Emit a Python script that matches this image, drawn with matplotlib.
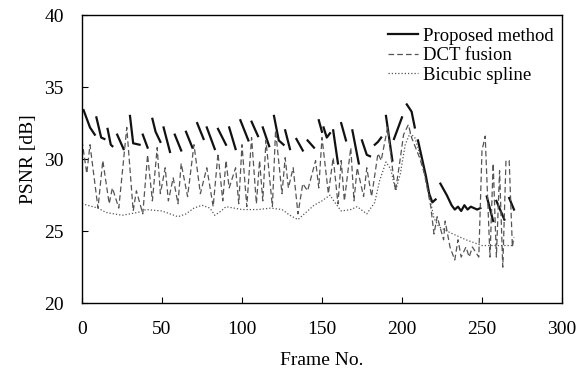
import numpy as np
import matplotlib.pyplot as plt

nan = np.nan

# Proposed method (segments separated by nan, one per key-frame group)
prop_frame = [1, 5, 8, nan, 9, 12, 14, nan, 16, 18, 19, nan, 22, 26, nan,
              30, 32, 36, nan, 38, 41, nan, 44, 46, 49, nan, 51, 55, nan,
              58, 62, nan, 65, 69, nan, 72, 76, nan, 78, 83, nan, 85, 90, nan,
              92, 96, nan, 99, 104, nan, 106, 110, nan, 113, 117, nan,
              120, 123, 126, nan, 127, 130, nan, 134, 138, nan, 141, 145, nan,
              148, 150, nan, 151, 153, 155, nan, 157, 160, nan, 162, 165, nan,
              169, 173, nan, 175, 178, 180, nan, 183, 185, 187, nan, 190, 194, nan,
              195, 200, nan, 203, 206, 208, nan, 210, 213, 215, 217, 219, 221, nan,
              224, 228, 231, 233, 235, 237, 239, 241, 243, 245, 247, 249, nan,
              253, 257, nan, 259, 264, nan, 267, 270]
prop_psnr = [33.4, 32.2, 31.7, nan, 32.9, 31.5, 31.4, nan, 32.1, 31.0, 30.9, nan, 31.7, 30.7, nan,
             33.0, 31.1, 31.0, nan, 31.7, 30.8, nan, 32.8, 31.9, 31.2, nan, 32.2, 30.5, nan,
             31.7, 30.6, nan, 31.9, 30.8, nan, 32.5, 31.4, nan, 32.2, 30.7, nan, 32.1, 31.0, nan,
             32.2, 30.7, nan, 32.7, 31.3, nan, 32.6, 31.6, nan, 32.2, 30.9, nan,
             33.0, 31.3, 31.0, nan, 32.0, 30.7, nan, 31.4, 30.6, nan, 31.3, 30.8, nan,
             32.7, 31.9, nan, 32.2, 31.5, 31.8, nan, 32.0, 29.7, nan, 32.5, 31.3, nan,
             32.0, 29.7, nan, 31.3, 30.3, 30.2, nan, 31.0, 31.2, 31.5, nan, 33.0, 29.9, nan,
             31.4, 32.9, nan, 33.8, 33.3, 32.2, nan, 31.3, 29.8, 28.8, 27.6, 27.0, 27.2, nan,
             28.3, 27.5, 26.8, 26.5, 26.7, 26.4, 26.8, 26.5, 26.7, 26.6, 26.5, 26.6, nan,
             27.4, 25.7, nan, 27.1, 25.8, nan, 27.3, 26.5]

# DCT fusion
dct_frame = [0, 3, 5, 10, 13, 17, 19, 23, 28, 32, 34, 38, 41, 44, 47, 49, 52, 54,
             57, 60, 62, 66, 70, 74, 78, 82, 85, 88, 90, 92, 96, 98, 100, 103,
             106, 109, 111, 113, 115, 119, 121, 125, 127, 129, 132, 135, 138,
             141, 146, 148, 150, 154, 157, 160, 162, 164, 168, 170, 172, 176,
             178, 181, 185, 187, 191, 194, 196, 199, 201, 204, 206, 211, 214,
             218, 220, 222, 226, 227, 230, 233, 235, 237, 240, 242, 244, 248,
             250, 252, 255, 257, 259, 261, 263, 265, 267, 269, 270]
dct_psnr = [31.3, 29.0, 31.0, 26.6, 29.9, 26.9, 28.0, 26.6, 32.2, 26.4, 27.8, 26.2,
            30.3, 27.1, 30.8, 27.6, 29.4, 27.1, 28.7, 26.9, 29.7, 27.4, 31.0, 27.6,
            29.4, 26.7, 30.4, 27.1, 29.9, 28.0, 29.4, 26.9, 31.0, 26.7, 31.5, 26.9,
            29.9, 27.1, 31.3, 26.7, 32.0, 27.6, 30.1, 28.0, 29.4, 26.2, 28.3, 27.8,
            29.9, 28.0, 31.5, 27.6, 30.1, 26.9, 29.9, 27.1, 30.8, 27.1, 29.4, 27.4,
            29.4, 27.4, 30.4, 29.9, 32.2, 29.4, 27.8, 30.1, 31.7, 32.4, 31.5, 30.1,
            29.0, 26.7, 24.8, 26.0, 24.4, 25.7, 23.9, 23.0, 24.4, 23.2, 23.9, 23.2,
            23.9, 23.2, 30.6, 31.6, 23.2, 29.7, 23.2, 29.2, 22.5, 29.9, 29.9, 23.9, 24.6]

# Bicubic spline
bic_frame = [0, 10, 15, 25, 35, 40, 50, 55, 60, 65, 70, 75, 80, 83, 87, 90, 100,
             110, 118, 125, 130, 135, 140, 145, 150, 155, 158, 162, 168, 172, 178,
             183, 186, 190, 193, 196, 199, 202, 205, 208, 210, 213, 217, 220, 223,
             230, 240, 250, 260, 270]
bic_psnr = [26.9, 26.6, 26.3, 26.1, 26.3, 26.5, 26.4, 26.2, 26.0, 26.2, 26.6, 26.8,
            26.6, 26.1, 26.4, 26.7, 26.5, 26.5, 26.6, 26.5, 26.1, 25.8, 26.3, 26.8,
            27.1, 27.5, 27.0, 26.4, 26.5, 26.7, 26.2, 27.0, 28.5, 29.8, 29.3, 27.8,
            29.0, 31.0, 31.8, 31.5, 30.8, 29.5, 27.5, 25.9, 25.3, 24.9, 24.4, 24.0,
            24.0, 24.0]

plt.rcParams['font.family'] = ['Liberation Serif', 'DejaVu Serif']

fig = plt.figure(figsize=(5.79, 3.78), dpi=100)
ax = fig.add_axes([0.1416, 0.198, 0.8290, 0.762])

ax.plot(prop_frame, prop_psnr, color='#111111', lw=1.6, label='Proposed method')
ax.plot(dct_frame, dct_psnr, color='#555555', lw=0.9, linestyle=(0, (4.5, 2.5)),
        label='DCT fusion')
ax.plot(bic_frame, bic_psnr, color='#555555', lw=0.9, linestyle=(0, (1, 1.6)),
        label='Bicubic spline')

ax.set_xlim(0, 300)
ax.set_ylim(20, 40)
ax.set_xticks(range(0, 301, 50))
ax.set_yticks(range(20, 41, 5))
ax.tick_params(direction='in', length=4, width=0.8, labelsize=14)
ax.tick_params(axis='x', pad=13)
ax.tick_params(axis='y', pad=13)
for s in ax.spines.values():
    s.set_linewidth(1.0)
ax.set_xlabel('Frame No.', fontsize=14, labelpad=10)
ax.set_ylabel('PSNR [dB]', fontsize=14, labelpad=5)

leg = ax.legend(loc='upper right', frameon=False, fontsize=13.5, handlelength=1.6,
                handletextpad=0.25, labelspacing=0.12, borderaxespad=0.05,
                bbox_to_anchor=(1.0, 0.985))

fig.savefig('out.png', dpi=100)
